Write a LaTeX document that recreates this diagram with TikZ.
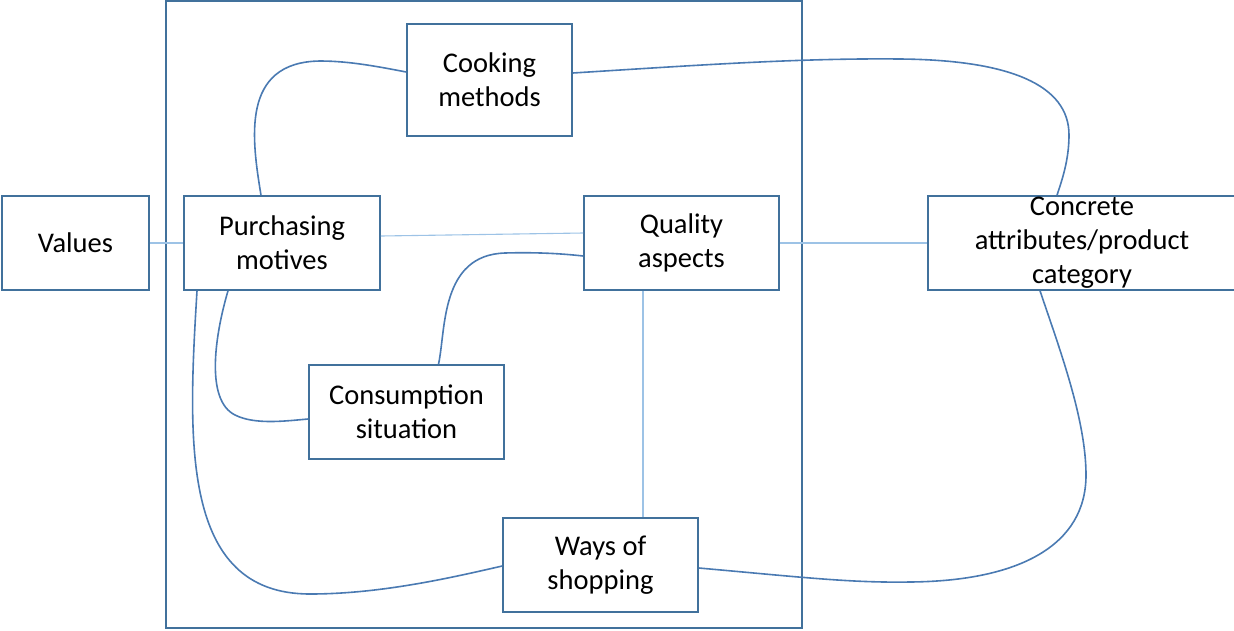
\documentclass[tikz,border=0pt]{standalone}
\usepackage{fontspec}
\setmainfont{Carlito}
\definecolor{boxline}{RGB}{65,113,156}
\definecolor{curveline}{RGB}{74,122,178}
\definecolor{thinline}{RGB}{157,195,230}
\tikzset{
  block/.style={draw=boxline, line width=1.6pt, align=center, inner sep=0pt,
    font=\fontsize{28.5}{34}\selectfont},
  link/.style={draw=curveline, line width=1.6pt},
  thinlink/.style={draw=thinline, line width=1.1pt}
}
\begin{document}
\begin{tikzpicture}[x=1pt,y=-1pt]
\useasboundingbox (0,0) rectangle (1234,630);

% Drawing outer frame
\draw [boxline, line width=1.6pt] (166,1) rectangle (802,628);

% Drawing boxes
\node [block, minimum width=147pt, minimum height=94pt] (values) at (75.5,243) {Values};
\node [block, minimum width=196pt, minimum height=94pt] (motives) at (282,243) {Purchasing\\motives};
\node [block, minimum width=165pt, minimum height=112pt] (cooking) at (489.5,80) {Cooking\\methods};
\node [block, minimum width=195pt, minimum height=94pt] (quality) at (681.5,243) {Quality\\aspects};
\node [block, minimum width=308pt, minimum height=94pt] (concrete) at (1082,243) {Concrete\\attributes/product\\category};
\node [block, minimum width=195pt, minimum height=94pt] (consumption) at (406.5,412) {Consumption\\situation};
\node [block, minimum width=195pt, minimum height=94pt] (shopping) at (600.5,565) {Ways of\\shopping};

% Drawing straight links
\draw [thinlink] (values.east) -- (motives.west);
\draw [thinlink] ([yshift=7pt]motives.east) -- ([yshift=10pt]quality.west);
\draw [thinlink] (quality.east) -- (concrete.west);
\draw [thinlink] ([xshift=-38.5pt]quality.south) -- ([xshift=42.5pt]shopping.north);

% Drawing curve motives cooking
\draw [link] ([xshift=-21pt]motives.north) .. controls (252,140) and (240,62) .. (320,61)
  .. controls (350,61) and (380,67) .. ([yshift=8pt]cooking.west);

% Drawing curve cooking concrete
\draw [link] ([yshift=7pt]cooking.east) .. controls (700,65) and (800,58) .. (900,59)
  .. controls (1010,60) and (1069,85) .. (1069,135)
  .. controls (1069,160) and (1062,180) .. ([xshift=-25pt]concrete.north);

% Drawing curve motives consumption
\draw [link] ([xshift=-54pt]motives.south) .. controls (215,335) and (205,400) .. (235,415)
  .. controls (255,425) and (285,421) .. ([yshift=-7pt]consumption.west);

% Drawing curve consumption quality
\draw [link] ([xshift=32pt]consumption.north) .. controls (446,330) and (440,255) .. (505,253)
  .. controls (540,252) and (565,254) .. ([yshift=-13pt]quality.west);

% Drawing curve motives shopping
\draw [link] ([xshift=-85pt]motives.south) .. controls (188,440) and (180,594) .. (310,594)
  .. controls (380,594) and (450,578) .. ([yshift=-1pt]shopping.west);

% Drawing curve shopping concrete
\draw [link] ([yshift=-3pt]shopping.east) .. controls (800,577) and (850,583) .. (910,582)
  .. controls (1020,581) and (1086,545) .. (1086,475)
  .. controls (1086,420) and (1060,350) .. ([xshift=-42pt]concrete.south);
\end{tikzpicture}
\end{document}
